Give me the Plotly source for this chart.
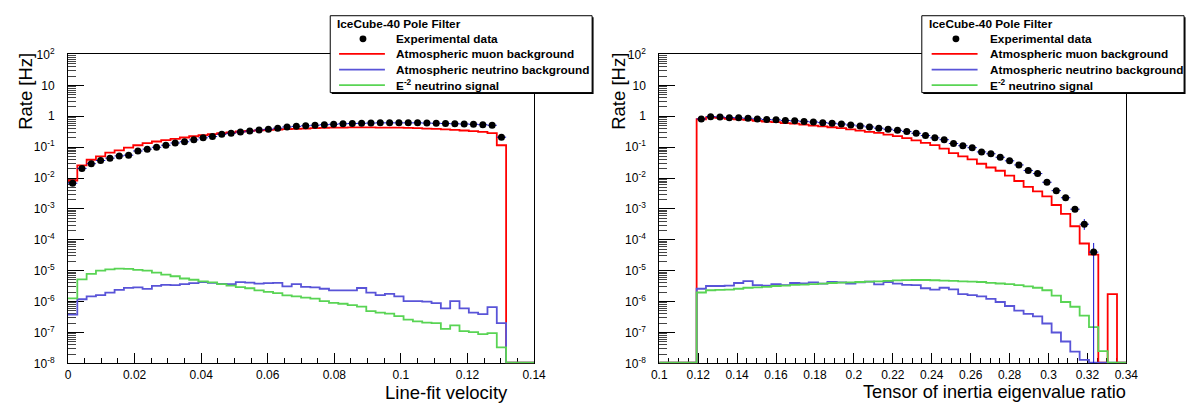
import numpy as np
import plotly.graph_objects as go

# ---------------- DATA ----------------
# Left panel: Line-fit velocity, 50 bins from 0 to 0.14
L_XMIN, L_XMAX, L_NBINS = 0.0, 0.14, 50
left_muon = [0.0083, 0.0255, 0.039, 0.050, 0.066, 0.079, 0.097, 0.115, 0.135, 0.152,
             0.168, 0.185, 0.205, 0.225, 0.245, 0.265, 0.285, 0.30, 0.32, 0.335,
             0.35, 0.36, 0.37, 0.38, 0.39, 0.40, 0.41, 0.42, 0.425, 0.43,
             0.435, 0.435, 0.435, 0.43, 0.43, 0.425, 0.42, 0.41, 0.40, 0.39,
             0.375, 0.36, 0.345, 0.33, 0.31, 0.285, 0.115, 0, 0, 0]
left_data = [0.0068, 0.0205, 0.029, 0.037, 0.044, 0.052, 0.055, 0.075, 0.086, 0.099,
             0.115, 0.136, 0.149, 0.172, 0.20, 0.22, 0.26, 0.28, 0.31, 0.33,
             0.36, 0.38, 0.41, 0.45, 0.47, 0.49, 0.51, 0.53, 0.55, 0.57,
             0.58, 0.59, 0.60, 0.61, 0.61, 0.61, 0.61, 0.61, 0.60, 0.59,
             0.58, 0.57, 0.56, 0.55, 0.53, 0.51, 0.21, None, None, None]
left_nu = [3.8e-7, 1.19e-6, 1.48e-6, 1.63e-6, 1.96e-6, 2.4e-6, 2.77e-6, 2.9e-6, 2.57e-6, 3.24e-6,
           3.5e-6, 3.4e-6, 3.66e-6, 3.96e-6, 4.27e-6, 4.05e-6, 3.73e-6, 3.66e-6, 4.27e-6, 4.1e-6,
           3.8e-6, 3.96e-6, 4.05e-6, 3.1e-6, 3.66e-6, 3.0e-6, 2.9e-6, 2.6e-6, 2.3e-6, 2.3e-6,
           2.3e-6, 2.75e-6, 1.96e-6, 1.62e-6, 1.78e-6, 1.48e-6, 1.03e-6, 1.03e-6, 1.0e-6, 8.9e-7,
           6.0e-7, 1.03e-6, 6.0e-7, 4.4e-7, 3.9e-7, 6.6e-7, 2.0e-7, 0, 0, 0]
left_sig = [1.28e-6, 5.2e-6, 7.9e-6, 1.0e-5, 1.1e-5, 1.17e-5, 1.15e-5, 1.07e-5, 1.0e-5, 8.7e-6,
            7.5e-6, 6.6e-6, 5.6e-6, 5.1e-6, 4.5e-6, 4.2e-6, 3.7e-6, 3.3e-6, 2.95e-6, 2.7e-6,
            2.3e-6, 2.06e-6, 1.87e-6, 1.6e-6, 1.48e-6, 1.35e-6, 1.25e-6, 1.03e-6, 9.1e-7, 8.5e-7,
            7.7e-7, 6.9e-7, 4.9e-7, 4.4e-7, 4.07e-7, 3.4e-7, 2.6e-7, 2.3e-7, 2.08e-7, 2.0e-7,
            1.3e-7, 1.7e-7, 1.1e-7, 1.02e-7, 8.9e-8, 9.6e-8, 3.3e-8, 0, 0, 0]

# Right panel: Tensor of inertia eigenvalue ratio, 50 bins from 0.1 to 0.34
R_XMIN, R_XMAX, R_NBINS = 0.1, 0.34, 50
right_muon = [0, 0, 0, 0, 0.80, 0.925, 0.89, 0.83, 0.795, 0.76,
              0.715, 0.668, 0.64, 0.60, 0.573, 0.537, 0.50, 0.47, 0.44, 0.41,
              0.375, 0.343, 0.313, 0.288, 0.255, 0.226, 0.196, 0.166, 0.137, 0.116,
              0.089, 0.064, 0.050, 0.040, 0.029, 0.0219, 0.0172, 0.012, 0.0080, 0.0052,
              0.0037, 0.00255, 0.00134, 0.00069, 0.000275, 7.6e-5, 3.3e-5, 0, 1.75e-6, 0]
right_data = [None, None, None, None, 0.82, 0.97, 0.95, 0.90, 0.885, 0.86,
              0.82, 0.78, 0.765, 0.73, 0.71, 0.68, 0.65, 0.62, 0.59, 0.56,
              0.52, 0.485, 0.45, 0.41, 0.38, 0.35, 0.32, 0.28, 0.237, 0.20,
              0.174, 0.131, 0.111, 0.096, 0.070, 0.061, 0.047, 0.036, 0.0265, 0.0176,
              0.0139, 0.0073, 0.0039, 0.0023, 0.00098, 0.00032, 4.0e-5, None, None, None]
right_err_hi = [0, 0, 0, 0, 0, 0, 0, 0, 0, 0,
                0, 0, 0, 0, 0, 0, 0, 0, 0, 0,
                0, 0, 0, 0, 0, 0, 0, 0, 0, 0,
                0, 0, 0, 0, 0, 0, 0, 0, 0, 0,
                0, 0, 0, 0, 1.0e-4, 1.5e-4, 3.9e-5, 0, 0, 0]
right_err_lo = [0, 0, 0, 0, 0, 0, 0, 0, 0, 0,
                0, 0, 0, 0, 0, 0, 0, 0, 0, 0,
                0, 0, 0, 0, 0, 0, 0, 0, 0, 0,
                0, 0, 0, 0, 0, 0, 0, 0, 0, 0,
                0, 0, 0, 0, 1.0e-4, 1.1e-4, 3.999e-5, 0, 0, 0]
right_nu = [0, 0, 0, 0, 2.6e-6, 3.2e-6, 3.2e-6, 3.3e-6, 4.0e-6, 4.6e-6,
            3.4e-6, 3.3e-6, 3.7e-6, 3.4e-6, 4.0e-6, 3.9e-6, 4.2e-6, 3.8e-6, 4.3e-6, 4.2e-6,
            3.8e-6, 4.2e-6, 4.4e-6, 3.6e-6, 4.3e-6, 3.8e-6, 3.5e-6, 3.4e-6, 2.7e-6, 2.45e-6,
            2.8e-6, 2.5e-6, 1.75e-6, 1.63e-6, 1.48e-6, 1.23e-6, 9.7e-7, 7.2e-7, 5.1e-7, 4.0e-7,
            3.3e-7, 1.95e-7, 1.0e-7, 5.1e-8, 2.4e-8, 1.3e-8, 0, 0, 0, 0]
right_sig = [0, 0, 0, 0, 1.97e-6, 2.33e-6, 2.4e-6, 2.45e-6, 2.6e-6, 2.8e-6,
             2.9e-6, 3.0e-6, 3.2e-6, 3.3e-6, 3.45e-6, 3.55e-6, 3.7e-6, 3.8e-6, 4.0e-6, 4.1e-6,
             4.2e-6, 4.3e-6, 4.4e-6, 4.5e-6, 4.7e-6, 4.85e-6, 4.95e-6, 5.0e-6, 5.0e-6, 4.9e-6,
             4.8e-6, 4.65e-6, 4.5e-6, 4.4e-6, 4.3e-6, 4.05e-6, 3.85e-6, 3.7e-6, 3.4e-6, 3.1e-6,
             2.8e-6, 2.33e-6, 1.55e-6, 9.7e-7, 6.8e-7, 3.5e-7, 1.5e-7, 2.5e-8, 0, 0]

left_xticks = [0, 0.02, 0.04, 0.06, 0.08, 0.1, 0.12, 0.14]
left_xticklabels = ["0", "0.02", "0.04", "0.06", "0.08", "0.1", "0.12", "0.14"]
right_xticks = [0.1, 0.12, 0.14, 0.16, 0.18, 0.2, 0.22, 0.24, 0.26, 0.28, 0.3, 0.32, 0.34]
right_xticklabels = ["0.1", "0.12", "0.14", "0.16", "0.18", "0.2", "0.22", "0.24",
                     "0.26", "0.28", "0.3", "0.32", "0.34"]
yticks = [1e-8, 1e-7, 1e-6, 1e-5, 1e-4, 1e-3, 1e-2, 1e-1, 1, 10, 100]
yticklabels = ["10<sup>-8</sup>", "10<sup>-7</sup>", "10<sup>-6</sup>", "10<sup>-5</sup>",
               "10<sup>-4</sup>", "10<sup>-3</sup>", "10<sup>-2</sup>", "10<sup>-1</sup>",
               "1", "10", "10<sup>2</sup>"]

legend_title = "IceCube-40 Pole Filter"
legend_labels = ["Experimental data", "Atmospheric muon background",
                 "Atmospheric neutrino background", "E<sup>-2</sup> neutrino signal"]

# ---------------- STYLE ----------------
W, H = 1200, 409
FONT = "Liberation Sans"
C_MUON = "#ff0000"
C_NU = "#5954d8"
C_SIG = "#59d454"
C_ERR = "#1010d0"
FLOOR = 1.05e-8  # empty bins are drawn on the lower frame edge, like ROOT
LEG_SIZE = 11.8


def px(x):
    return x / W


def py(y):
    return 1 - y / H


def floored(vals):
    return [v if v > 0 else FLOOR for v in vals]


fig = go.Figure()


def add_panel(xmin, xmax, nbins, muon, nu, sig, data, xa, ya, err_hi=None, err_lo=None):
    edges = np.linspace(xmin, xmax, nbins + 1)
    centers = 0.5 * (edges[:-1] + edges[1:])
    half = 0.5 * (xmax - xmin) / nbins
    for vals, col in ((muon, C_MUON), (nu, C_NU), (sig, C_SIG)):
        yv = floored(vals)
        fig.add_trace(go.Scatter(x=edges, y=yv + [yv[-1]], mode="lines",
                                 line=dict(color=col, width=1.8, shape="hv"),
                                 xaxis=xa, yaxis=ya, showlegend=False, hoverinfo="skip"))
    idx = [i for i, v in enumerate(data) if v is not None]
    ey = None
    if err_hi is not None:
        ey = dict(type="data", array=[err_hi[i] for i in idx],
                  arrayminus=[err_lo[i] for i in idx], color=C_ERR, thickness=1, width=0)
    fig.add_trace(go.Scatter(x=[centers[i] for i in idx], y=[data[i] for i in idx],
                             mode="markers", marker=dict(color="black", size=7),
                             error_x=dict(type="constant", value=half, color=C_ERR,
                                          thickness=1, width=0),
                             error_y=ey,
                             xaxis=xa, yaxis=ya, showlegend=False, hoverinfo="skip"))


add_panel(L_XMIN, L_XMAX, L_NBINS, left_muon, left_nu, left_sig, left_data, "x", "y")
add_panel(R_XMIN, R_XMAX, R_NBINS, right_muon, right_nu, right_sig, right_data, "x2", "y2",
          right_err_hi, right_err_lo)

ydom = [py(368.8), py(47.3)]
yminor = [d * 10.0 ** e for e in range(-8, 2) for d in range(2, 10)]

common_x = dict(ticks="inside", ticklen=10, tickwidth=1, tickcolor="black",
                showline=True, mirror=True, linecolor="black", linewidth=1,
                showgrid=False, zeroline=False, layer="below traces",
                tickfont=dict(family=FONT, size=12, color="black"),
                tickmode="array",
                minor=dict(ticks="inside", ticklen=5, tickwidth=1, tickcolor="black",
                           dtick=0.005, showgrid=False))
common_y = dict(type="log", range=[-8, 2], domain=ydom, ticks="inside", ticklen=16,
                tickwidth=1, tickcolor="black", showline=True, mirror=True,
                linecolor="black", linewidth=1, showgrid=False, zeroline=False,
                layer="below traces", tickmode="array", tickvals=yticks,
                ticktext=yticklabels, ticklabelstandoff=10,
                tickfont=dict(family=FONT, size=12, color="black"),
                minor=dict(ticks="inside", ticklen=8, tickwidth=1, tickcolor="#444444",
                           tickmode="array", tickvals=yminor, showgrid=False))

fig.update_layout(
    width=W, height=H, margin=dict(l=0, r=0, t=0, b=0),
    paper_bgcolor="white", plot_bgcolor="white", showlegend=False,
    xaxis=dict(common_x, domain=[px(61), px(535)], range=[L_XMIN, L_XMAX],
               tickvals=left_xticks, ticktext=left_xticklabels, anchor="y"),
    yaxis=dict(common_y, anchor="x"),
    xaxis2=dict(common_x, domain=[px(662.3), px(1137.3)], range=[R_XMIN, R_XMAX],
                tickvals=right_xticks, ticktext=right_xticklabels, anchor="y2"),
    yaxis2=dict(common_y, anchor="x2"),
)

annotations = []
shapes = []


def ann(text, x, y, size, xanchor="left", yanchor="middle", bold=False, angle=0):
    annotations.append(dict(text=text, x=px(x), y=py(y), xref="paper", yref="paper",
                            xanchor=xanchor, yanchor=yanchor, showarrow=False,
                            textangle=angle, borderpad=0,
                            font=dict(family=FONT, size=size, color="black",
                                      weight="bold" if bold else "normal")))


# axis titles
ann("Line-fit velocity", 509, 399, 18.5, xanchor="right")
ann("Tensor of inertia eigenvalue ratio", 1138, 399, 18.2, xanchor="right")
ann("Rate [Hz]", 17, 85.5, 18.5, xanchor="center", yanchor="middle", angle=-90)
ann("Rate [Hz]", 620, 85.5, 18.5, xanchor="center", yanchor="middle", angle=-90)

# legends (one per panel)
for x0, x1, xt_title, xt_text, xs0, xs1, xm in ((327.7, 594, 333.3, 394, 336.7, 383.3, 361),
                                               (929.3, 1196, 936, 997.3, 939.3, 986, 964)):
    y0, y1 = 7, 87
    shapes.append(dict(type="rect", xref="paper", yref="paper", layer="above",
                       x0=px(x0 + 1.5), x1=px(x1 + 1.5), y0=py(y1 + 1.5), y1=py(y0 + 1.5),
                       fillcolor="black", line=dict(width=0)))
    shapes.append(dict(type="rect", xref="paper", yref="paper", layer="above",
                       x0=px(x0), x1=px(x1), y0=py(y1), y1=py(y0),
                       fillcolor="white", line=dict(color="black", width=1)))
    ann(legend_title, xt_title, 15.3, LEG_SIZE, bold=True)
    ys = [31, 46.7, 63, 79.3]
    for lab, yy in zip(legend_labels, ys):
        ann(lab, xt_text, yy, LEG_SIZE, bold=True)
    r = 3.5
    shapes.append(dict(type="circle", xref="paper", yref="paper", layer="above",
                       x0=px(xm - r), x1=px(xm + r), y0=py(ys[0] + r), y1=py(ys[0] - r),
                       fillcolor="black", line=dict(color="black", width=0)))
    for col, yy in zip((C_MUON, C_NU, C_SIG), ys[1:]):
        shapes.append(dict(type="line", xref="paper", yref="paper", layer="above",
                           x0=px(xs0), x1=px(xs1), y0=py(yy), y1=py(yy),
                           line=dict(color=col, width=1.8)))

fig.update_layout(annotations=annotations, shapes=shapes)
fig.write_html("out.html")
